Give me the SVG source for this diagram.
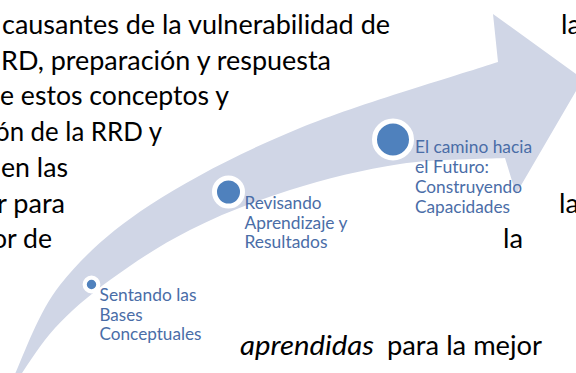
<svg xmlns="http://www.w3.org/2000/svg" width="576" height="373" viewBox="0 0 576 373">
<style>
.body{font-family:Lato,"Liberation Sans",sans-serif;font-size:26.5px;fill:#000}
.it{font-style:italic}
.lbl{font-family:Lato,"Liberation Sans",sans-serif;font-size:17.3px;fill:#4A6DA7}
.arrow{fill:#D0D6E6;stroke:none}
.dot{fill:#4F81BD;stroke:#fff}
</style>
<rect width="576" height="373" fill="#fff"/>
<g id="connectors">
<path class="arrow" d="M 14 376 C 21.7 360.8, 37.3 313.5, 60 285 C 82.7 256.5, 110 231.2, 150 205 C 190 178.8, 242 151.8, 300 128 C 358 104.2, 465 73, 498 62 L 493 14 L 583 79 L 516 194 L 505 158 C 487.5 159, 435.8 158.7, 400 164 C 364.2 169.3, 325 179, 290 190 C 255 201, 220 215, 190 230 C 160 245, 132.5 263.7, 110 280 C 87.5 296.3, 70 312, 55 328 C 40 344, 25.8 368, 20 376 Z"/>
</g>
<g id="body-text">
<text class="body" x="2" y="34" textLength="388" lengthAdjust="spacingAndGlyphs">causantes de la vulnerabilidad de</text>
<text class="body" x="1" y="69.7" textLength="330" lengthAdjust="spacingAndGlyphs">RD, preparación y respuesta</text>
<text class="body" x="0" y="105.4" textLength="229" lengthAdjust="spacingAndGlyphs">e estos conceptos y</text>
<text class="body" x="-5" y="141.1" textLength="167" lengthAdjust="spacingAndGlyphs">ón de la RRD y</text>
<text class="body" x="1" y="176.8" textLength="67" lengthAdjust="spacingAndGlyphs">en las</text>
<text class="body" x="-3" y="212.5" textLength="68" lengthAdjust="spacingAndGlyphs">r para</text>
<text class="body" x="-8" y="248.2" textLength="60" lengthAdjust="spacingAndGlyphs">or de</text>
<text class="body it" x="240" y="355" textLength="134" lengthAdjust="spacingAndGlyphs">aprendidas</text>
<text class="body" x="387" y="355" textLength="155" lengthAdjust="spacingAndGlyphs">para la mejor</text>
<text class="body" x="561" y="34" textLength="20" lengthAdjust="spacingAndGlyphs">la</text>
<text class="body" x="559" y="212.5" textLength="20" lengthAdjust="spacingAndGlyphs">la</text>
<text class="body" x="503" y="248.2" textLength="20" lengthAdjust="spacingAndGlyphs">la</text>
</g>
<g id="node-sentando">
<circle class="dot" cx="91.5" cy="284.5" r="6.8" stroke-width="4.2"/>
<text class="lbl" x="99.5" y="300.8" textLength="97" lengthAdjust="spacingAndGlyphs">Sentando las</text>
<text class="lbl" x="99.5" y="320.5" textLength="43" lengthAdjust="spacingAndGlyphs">Bases</text>
<text class="lbl" x="99.5" y="340.2" textLength="102" lengthAdjust="spacingAndGlyphs">Conceptuales</text>
</g>
<g id="node-revisando">
<circle class="dot" cx="228.5" cy="192" r="14" stroke-width="5"/>
<text class="lbl" x="244.5" y="209.3" textLength="77" lengthAdjust="spacingAndGlyphs">Revisando</text>
<text class="lbl" x="244.5" y="228.8" textLength="103" lengthAdjust="spacingAndGlyphs">Aprendizaje y</text>
<text class="lbl" x="244.5" y="248.3" textLength="83" lengthAdjust="spacingAndGlyphs">Resultados</text>
</g>
<g id="node-camino">
<circle class="dot" cx="393" cy="139.5" r="18.5" stroke-width="5"/>
<text class="lbl" x="415" y="153.4" textLength="117" lengthAdjust="spacingAndGlyphs">El camino hacia</text>
<text class="lbl" x="415" y="173.1" textLength="74" lengthAdjust="spacingAndGlyphs">el Futuro:</text>
<text class="lbl" x="415" y="192.8" textLength="107" lengthAdjust="spacingAndGlyphs">Construyendo</text>
<text class="lbl" x="415" y="212.5" textLength="95" lengthAdjust="spacingAndGlyphs">Capacidades</text>
</g>
</svg>
